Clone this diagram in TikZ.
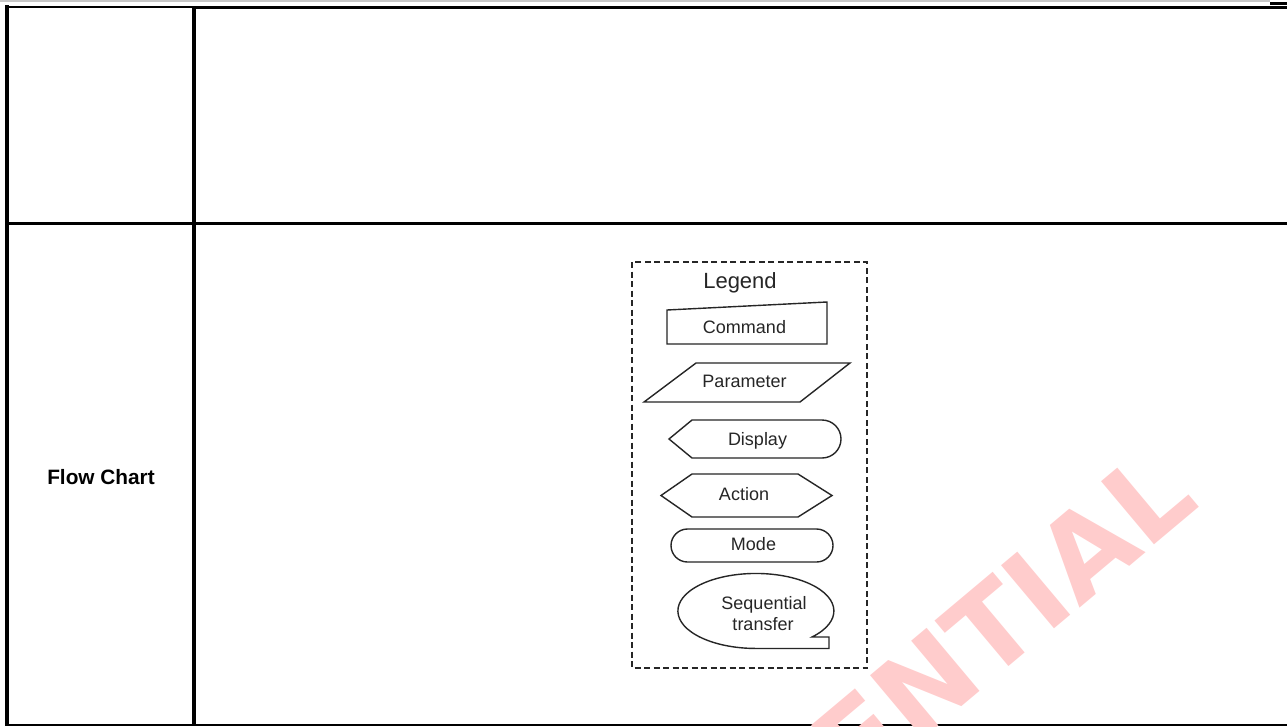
\documentclass[tikz,border=0pt]{standalone}
\usepackage{fontspec}
\setmainfont{Liberation Sans}
\newfontfamily\wmfont{DejaVu Sans}
\begin{document}
\begin{tikzpicture}[x=1pt,y=-1pt,
  rule/.style={line width=#1, black},
  shapeline/.style={draw=black!85, line width=1.4pt, line join=miter},
  lbl/.style={anchor=base, inner sep=0pt, font=\fontsize{18}{21}\selectfont, text=black!85},
  legendbox/.style={draw=black!85, line width=1.8pt, dash pattern=on 6pt off 3.5pt},
  watermark/.style={anchor=base east, inner sep=0pt, rotate=40,
     font=\wmfont\bfseries\fontsize{113}{113}\selectfont, text=wmpink}]
\definecolor{wmpink}{RGB}{255,204,204}
\useasboundingbox (0,0) rectangle (1287,726);
\fill[white] (0,0) rectangle (1287,726);

% table rules
\draw[line width=1.6pt, black!22] (0,1) -- (1270,1);
\fill[black] (1270,1.7) rectangle (1287,5);
\draw[rule=2pt] (5,6.5) -- (1287,6.5);
\draw[rule=2pt] (194,7.8) -- (1287,7.8);
\draw[rule=4pt] (7,5) -- (7,726);
\draw[rule=3.6pt] (194,7) -- (194,726);
\draw[rule=3.3pt] (5,223.3) -- (1287,223.3);
\draw[rule=2pt] (5,725) -- (1287,725);

% row label
\node[anchor=base, inner sep=0pt, font=\bfseries\fontsize{20.8}{24}\selectfont] (fc) at (101,484.3) {Flow Chart};

% legend box
\draw[legendbox] (632,262) rectangle (867,668);
\node[anchor=base, inner sep=0pt, font=\fontsize{22}{26}\selectfont, text=black!85] (legend) at (740,288) {Legend};

% Command (manual input)
\draw[shapeline] (667,310) -- (827,302) -- (827,344) -- (667,344) -- cycle;
\node[lbl] (command) at (744.5,333) {Command};

% Parameter (parallelogram)
\draw[shapeline] (696,363) -- (850,363) -- (800,402) -- (644,402) -- cycle;
\node[lbl] (parameter) at (744.5,387.7) {Parameter};

% Display
\draw[shapeline] (669,439) -- (692,420) -- (822,420)
   arc[start angle=90, end angle=-90, radius=19pt] -- (692,458) -- cycle;
\node[lbl] (display) at (757.5,445.3) {Display};

% Action (hexagon)
\draw[shapeline] (661,495.5) -- (692,474) -- (798,474) -- (832,495.5) -- (798,517) -- (692,517) -- cycle;
\node[lbl] (action) at (744,500.7) {Action};

% Mode (terminal)
\draw[shapeline] (687.5,529) -- (816.5,529)
   arc[start angle=90, end angle=-90, radius=16.5pt] -- (687.5,562)
   arc[start angle=270, end angle=90, radius=16.5pt] -- cycle;
\node[lbl] (mode) at (753.5,550.7) {Mode};

% Sequential transfer
\draw[shapeline] (829,648.5) -- (829,637) -- (812,637)
   arc[start angle=-44, end angle=270, x radius=78pt, y radius=37.5pt] -- cycle;
\node[lbl] (seq1) at (764,609) {Sequential};
\node[lbl] (seq2) at (763,630.5) {transfer};

% watermark
\begin{scope}
\clip (0,0) rectangle (1287,726);
\node[watermark] (wm) at (1201.5,505.5) {CONFIDENTIAL};
\end{scope}
\end{tikzpicture}
\end{document}
